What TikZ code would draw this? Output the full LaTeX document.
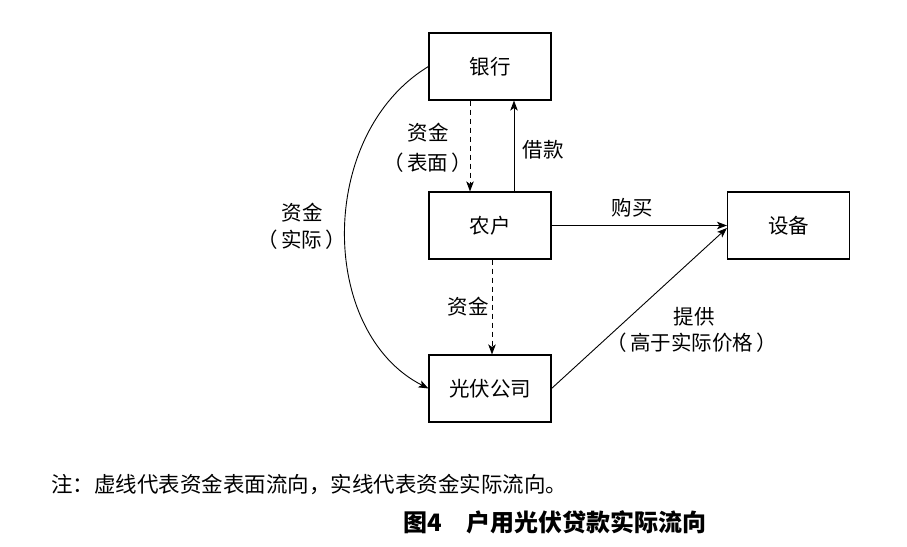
\documentclass[tikz,border=0pt]{standalone}
\usepackage{fontspec}
\newfontfamily\cjk{Noto Sans CJK SC}
\usetikzlibrary{arrows.meta}
\begin{document}
\begin{tikzpicture}[x=1pt,y=1pt,
  every node/.style={font=\cjk\fontsize{20.5}{24}\selectfont},
  box/.style={draw=drawColor,line width=1.1pt,minimum width=122pt,minimum height=67pt,inner sep=0pt},
  lbl/.style={text=drawColor,inner sep=0pt,outer sep=0pt},
  flow/.style={draw=drawColor,line width=0.9pt,-{Stealth[length=10pt,width=7.5pt,inset=2.5pt]}},
  fake/.style={flow,dash pattern=on 5pt off 4pt}]
\definecolor{fillColor}{RGB}{255,255,255}
\definecolor{drawColor}{RGB}{0,0,0}
\path[use as bounding box,fill=fillColor] (0,0) rectangle (907,546);

\node[box] (bank) at (490,479.5) {银行};
\node[box] (farmer) at (490,320.5) {农户};
\node[box] (company) at (490,157.5) {光伏公司};
\node[box] (device) at (788.5,320.5) {设备};

\draw[fake] ([xshift=-20pt]bank.south) -- ([xshift=-20pt]farmer.north);
\draw[flow] ([xshift=24pt]farmer.north) -- ([xshift=24pt]bank.south);
\draw[fake] ([xshift=2pt]farmer.south) -- ([xshift=2pt]company.north);
\draw[flow] (farmer.east) -- (device.west);
\draw[flow] (company.east) -- ([yshift=-2.5pt]device.west);
\draw[flow] (bank.west) .. controls (317,412) and (318,214) .. (company.west);

\node[lbl] at (428,413) {资金};
\node[lbl] at (428,383) {（\,表面\,）};
\node[lbl] at (543,396) {借款};
\node[lbl] at (632,338) {购买};
\node[lbl] at (468,239) {资金};
\node[lbl] at (302,333) {资金};
\node[lbl] at (302,306) {（\,实际\,）};
\node[lbl] at (694,229) {提供};
\node[lbl] at (692,203) {（\,高于实际价格\,）};

\node[lbl,anchor=west,font=\cjk\fontsize{21.5}{25}\selectfont] at (51,61) {注：虚线代表资金表面流向，实线代表资金实际流向。};
\node[lbl,font=\cjk\bfseries\fontsize{24}{28}\selectfont] at (555,24) {图4\hspace{24pt}户用光伏贷款实际流向};
\end{tikzpicture}
\end{document}
